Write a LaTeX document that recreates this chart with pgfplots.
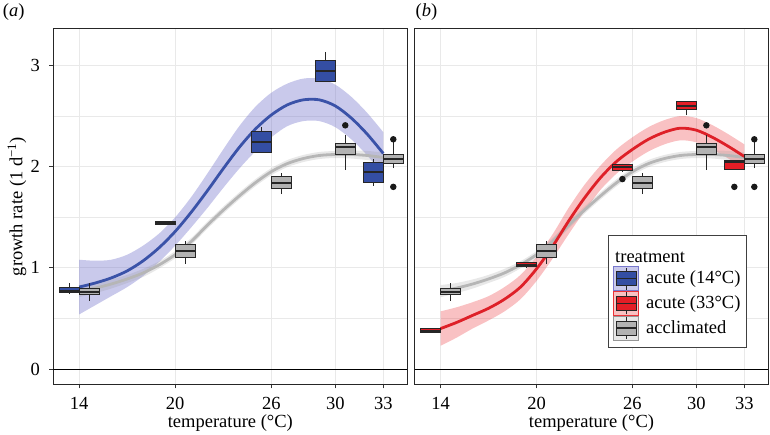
\documentclass[border=0pt]{standalone}
\usepackage{fontspec}
\setmainfont{Liberation Serif}
\usepackage{pgfplots}
\usepackage{pgfplotstable}
\pgfplotsset{compat=1.18}
\usepgfplotslibrary{statistics,fillbetween}

\definecolor{bluebox}{RGB}{52,78,163}
\definecolor{blueline}{RGB}{58,82,168}
\definecolor{bandblue}{RGB}{120,120,205}
\definecolor{redbox}{RGB}{228,30,38}
\definecolor{redline}{RGB}{222,32,40}
\definecolor{bandred}{RGB}{235,50,55}
\definecolor{graybox}{RGB}{178,178,178}
\definecolor{grayline}{RGB}{182,182,182}
\definecolor{bandgray}{RGB}{150,150,150}
\definecolor{gridc}{RGB}{233,233,233}
\definecolor{boxedge}{RGB}{38,38,38}

\pgfplotstableread{
T  bm   bu   bl   gm   gu    gl    rm   ru   rl
14 0.81 1.08 0.54 0.77 0.830 0.710 0.40 0.57 0.23
15 0.85 1.07 0.63 0.80 0.850 0.750 0.46 0.61 0.31
16 0.90 1.08 0.72 0.84 0.885 0.795 0.53 0.66 0.40
17 0.97 1.13 0.81 0.89 0.930 0.850 0.60 0.72 0.48
18 1.07 1.22 0.92 0.95 0.990 0.910 0.69 0.81 0.57
19 1.20 1.34 1.06 1.03 1.065 0.995 0.81 0.93 0.69
20 1.36 1.50 1.22 1.13 1.165 1.095 0.99 1.11 0.87
21 1.55 1.70 1.40 1.26 1.295 1.225 1.21 1.33 1.09
22 1.76 1.93 1.59 1.42 1.455 1.385 1.46 1.59 1.33
23 1.98 2.17 1.79 1.57 1.605 1.535 1.69 1.82 1.56
24 2.19 2.40 1.98 1.71 1.745 1.675 1.89 2.01 1.77
25 2.37 2.59 2.15 1.84 1.875 1.805 2.05 2.17 1.93
26 2.51 2.73 2.29 1.95 1.985 1.915 2.17 2.29 2.05
27 2.61 2.82 2.40 2.03 2.065 1.995 2.27 2.39 2.15
28 2.66 2.87 2.45 2.08 2.115 2.045 2.34 2.46 2.22
29 2.66 2.87 2.45 2.11 2.145 2.075 2.38 2.50 2.26
30 2.60 2.81 2.39 2.12 2.155 2.085 2.36 2.48 2.24
31 2.48 2.69 2.27 2.12 2.160 2.080 2.29 2.41 2.17
32 2.32 2.53 2.11 2.11 2.155 2.065 2.20 2.32 2.08
33 2.13 2.34 1.92 2.09 2.140 2.040 2.10 2.22 1.98
}\fits

\pgfplotsset{
  panel/.style={
    scale only axis, width=354pt, height=355.3pt,
    xmin=12.38, xmax=34.5, ymin=-0.151, ymax=3.36,
    xtick={14,20,26,30,33}, ytick={0,1,2,3},
    minor ytick={0.5,1.5,2.5},
    grid=both,
    major grid style={draw=gridc, line width=1pt},
    minor grid style={draw=gridc, line width=0.5pt},
    axis line style={draw=black!85, line width=1pt},
    tick align=outside, tick pos=left,
    major tick length=4pt, minor tick length=0pt,
    tick style={draw=black!80, line width=0.9pt},
    /pgf/number format/assume math mode=true,
    xticklabel style={yshift=-3pt},
    yticklabel style={xshift=-3pt},
    xlabel={temperature (°C)},
    xlabel style={at={(axis description cs:0.5,-0.109)}, anchor=center, inner sep=0pt},
    boxplot/draw direction=y,
    boxplot/box extend=1.25,
    boxplot/whisker extend=0,
    boxplot/every median/.style={line width=2pt},
    every axis title/.style={anchor=west, inner sep=0pt},
  },
  bx/.style={forget plot, draw=boxedge, line width=1pt, fill=#1,
    mark=*, mark size=2.7pt, mark options={fill=black!90, draw=black!90, solid}},
  band/.style={forget plot, fill=#1, draw=none},
}

\begin{document}
\fontsize{18.5}{22}\selectfont
\begin{tikzpicture}
\path (0,0) rectangle (770pt,434pt);

% ---------------- panel (a)
\begin{axis}[panel, at={(53.3pt,49.7pt)}, anchor=south west,
  ylabel={growth rate (1 d\textsuperscript{\char"2212 1})},
  ylabel style={at={(axis description cs:-0.1025,0.5)}, anchor=center},
  title={(\textit{a})}, title style={at={(axis description cs:-0.143,1.048)}}]
\addplot[name path=bu, draw=none, smooth, forget plot] table[x=T,y=bu]{\fits};
\addplot[name path=bl, draw=none, smooth, forget plot] table[x=T,y=bl]{\fits};
\addplot[band=bandblue, fill opacity=0.4] fill between[of=bu and bl];
\addplot[name path=gu, draw=none, smooth, forget plot] table[x=T,y=gu]{\fits};
\addplot[name path=gl, draw=none, smooth, forget plot] table[x=T,y=gl]{\fits};
\addplot[band=bandgray, fill opacity=0.22] fill between[of=gu and gl];
\addplot[forget plot, black, line width=1pt] coordinates {(12.38,0) (34.5,0)};
\addplot[forget plot, grayline, line width=2.8pt, smooth] table[x=T,y=gm]{\fits};
\addplot[forget plot, blueline, line width=2.8pt, smooth] table[x=T,y=bm]{\fits};
% acute 14C boxes
\addplot[bx=bluebox, boxplot prepared={draw position=13.375, lower whisker=0.75, lower quartile=0.754, median=0.775, upper quartile=0.807, upper whisker=0.847}] coordinates {};
\addplot[bx=bluebox, boxplot prepared={draw position=19.375, lower whisker=1.43, lower quartile=1.43, median=1.443, upper quartile=1.456, upper whisker=1.456}] coordinates {};
\addplot[bx=bluebox, boxplot prepared={draw position=25.375, lower whisker=2.14, lower quartile=2.144, median=2.246, upper quartile=2.352, upper whisker=2.394}] coordinates {};
\addplot[bx=bluebox, boxplot prepared={draw position=29.375, lower whisker=2.843, lower quartile=2.843, median=2.94, upper quartile=3.05, upper whisker=3.135}] coordinates {};
\addplot[bx=bluebox, boxplot prepared={draw position=32.375, lower whisker=1.81, lower quartile=1.848, median=1.95, upper quartile=2.043, upper whisker=2.075}] coordinates {};
% acclimated boxes
\addplot[bx=graybox, boxplot prepared={draw position=14.625, lower whisker=0.675, lower quartile=0.734, median=0.764, upper quartile=0.793, upper whisker=0.847}] coordinates {};
\addplot[bx=graybox, boxplot prepared={draw position=20.625, lower whisker=1.038, lower quartile=1.104, median=1.169, upper quartile=1.235, upper whisker=1.268}] coordinates {};
\addplot[bx=graybox, boxplot prepared={draw position=26.625, lower whisker=1.726, lower quartile=1.779, median=1.841, upper quartile=1.90, upper whisker=1.934}] coordinates {};
\addplot[bx=graybox, boxplot prepared={draw position=30.625, lower whisker=1.966, lower quartile=2.115, median=2.197, upper quartile=2.23, upper whisker=2.312}] table[row sep=\\,y index=0]{data\\ 2.408\\};
\addplot[bx=graybox, boxplot prepared={draw position=33.625, lower whisker=1.983, lower quartile=2.026, median=2.072, upper quartile=2.121, upper whisker=2.246}] table[row sep=\\,y index=0]{data\\ 2.27\\ 1.80\\};
\end{axis}

% ---------------- panel (b)
\begin{axis}[panel, at={(414.7pt,49.7pt)}, anchor=south west, width=353.6pt,
  yticklabels={}, ytick style={draw=none},
  title={(\textit{b})}, title style={at={(axis description cs:0.002,1.048)}},
  legend cell align=left,
  legend style={at={(axis description cs:0.5467,0.1022)}, anchor=south west,
    draw=black!75, line width=0.8pt, fill=white, inner xsep=5pt, inner ysep=7pt,
    row sep=0pt, nodes={inner sep=1pt},
    /tikz/every odd column/.append style={column sep=6pt}}]
\addplot[name path=ru, draw=none, smooth, forget plot] table[x=T,y=ru]{\fits};
\addplot[name path=rl, draw=none, smooth, forget plot] table[x=T,y=rl]{\fits};
\addplot[band=bandred, fill opacity=0.3] fill between[of=ru and rl];
\addplot[name path=gu, draw=none, smooth, forget plot] table[x=T,y=gu]{\fits};
\addplot[name path=gl, draw=none, smooth, forget plot] table[x=T,y=gl]{\fits};
\addplot[band=bandgray, fill opacity=0.22] fill between[of=gu and gl];
\addplot[forget plot, black, line width=1pt] coordinates {(12.38,0) (34.5,0)};
\addplot[forget plot, grayline, line width=2.8pt, smooth] table[x=T,y=gm]{\fits};
\addplot[forget plot, redline, line width=2.8pt, smooth] table[x=T,y=rm]{\fits};
% acute 33C boxes
\addplot[bx=redbox, boxplot prepared={draw position=13.375, lower whisker=0.359, lower quartile=0.359, median=0.38, upper quartile=0.405, upper whisker=0.405}] coordinates {};
\addplot[bx=redbox, boxplot prepared={draw position=19.375, lower whisker=1.005, lower quartile=1.011, median=1.03, upper quartile=1.054, upper whisker=1.06}] coordinates {};
\addplot[bx=redbox, boxplot prepared={draw position=25.375, lower whisker=1.95, lower quartile=1.966, median=1.993, upper quartile=2.023, upper whisker=2.03}] table[row sep=\\,y index=0]{data\\ 1.877\\};
\addplot[bx=redbox, boxplot prepared={draw position=29.375, lower whisker=2.51, lower quartile=2.569, median=2.602, upper quartile=2.641, upper whisker=2.641}] coordinates {};
\addplot[bx=redbox, boxplot prepared={draw position=32.375, lower whisker=1.976, lower quartile=1.976, median=2.048, upper quartile=2.065, upper whisker=2.065}] table[row sep=\\,y index=0]{data\\ 1.80\\};
% acclimated boxes
\addplot[bx=graybox, boxplot prepared={draw position=14.625, lower whisker=0.675, lower quartile=0.734, median=0.764, upper quartile=0.793, upper whisker=0.847}] coordinates {};
\addplot[bx=graybox, boxplot prepared={draw position=20.625, lower whisker=1.038, lower quartile=1.104, median=1.169, upper quartile=1.235, upper whisker=1.268}] coordinates {};
\addplot[bx=graybox, boxplot prepared={draw position=26.625, lower whisker=1.726, lower quartile=1.779, median=1.841, upper quartile=1.90, upper whisker=1.934}] coordinates {};
\addplot[bx=graybox, boxplot prepared={draw position=30.625, lower whisker=1.966, lower quartile=2.115, median=2.197, upper quartile=2.23, upper whisker=2.312}] table[row sep=\\,y index=0]{data\\ 2.408\\};
\addplot[bx=graybox, boxplot prepared={draw position=33.625, lower whisker=1.983, lower quartile=2.026, median=2.072, upper quartile=2.121, upper whisker=2.246}] table[row sep=\\,y index=0]{data\\ 2.27\\ 1.80\\};
% legend
\addlegendimage{empty legend}
\addlegendentry{\hspace*{-31pt}treatment\rule[-9pt]{0pt}{27.6pt}}
\addlegendimage{legend image code/.code={
  \fill[bandblue, fill opacity=0.4] (0pt,-12pt) rectangle (25pt,12pt);
  \draw[boxedge, line width=0.9pt] (12.5pt,-11pt) -- (12.5pt,11pt);
  \filldraw[fill=bluebox, draw=boxedge, line width=0.9pt] (2.5pt,-7pt) rectangle (22.5pt,7pt);
  \draw[boxedge, line width=1.6pt] (2.5pt,0pt) -- (22.5pt,0pt);}}
\addlegendentry{acute (14°C)}
\addlegendimage{legend image code/.code={
  \fill[bandred, fill opacity=0.3] (0pt,-12pt) rectangle (25pt,12pt);
  \draw[boxedge, line width=0.9pt] (12.5pt,-11pt) -- (12.5pt,11pt);
  \filldraw[fill=redbox, draw=boxedge, line width=0.9pt] (2.5pt,-7pt) rectangle (22.5pt,7pt);
  \draw[boxedge, line width=1.6pt] (2.5pt,0pt) -- (22.5pt,0pt);}}
\addlegendentry{acute (33°C)}
\addlegendimage{legend image code/.code={
  \fill[bandgray, fill opacity=0.22] (0pt,-12pt) rectangle (25pt,12pt);
  \draw[boxedge, line width=0.9pt] (12.5pt,-11pt) -- (12.5pt,11pt);
  \filldraw[fill=graybox, draw=boxedge, line width=0.9pt] (2.5pt,-7pt) rectangle (22.5pt,7pt);
  \draw[boxedge, line width=1.6pt] (2.5pt,0pt) -- (22.5pt,0pt);}}
\addlegendentry{acclimated}
\end{axis}
\end{tikzpicture}
\end{document}
